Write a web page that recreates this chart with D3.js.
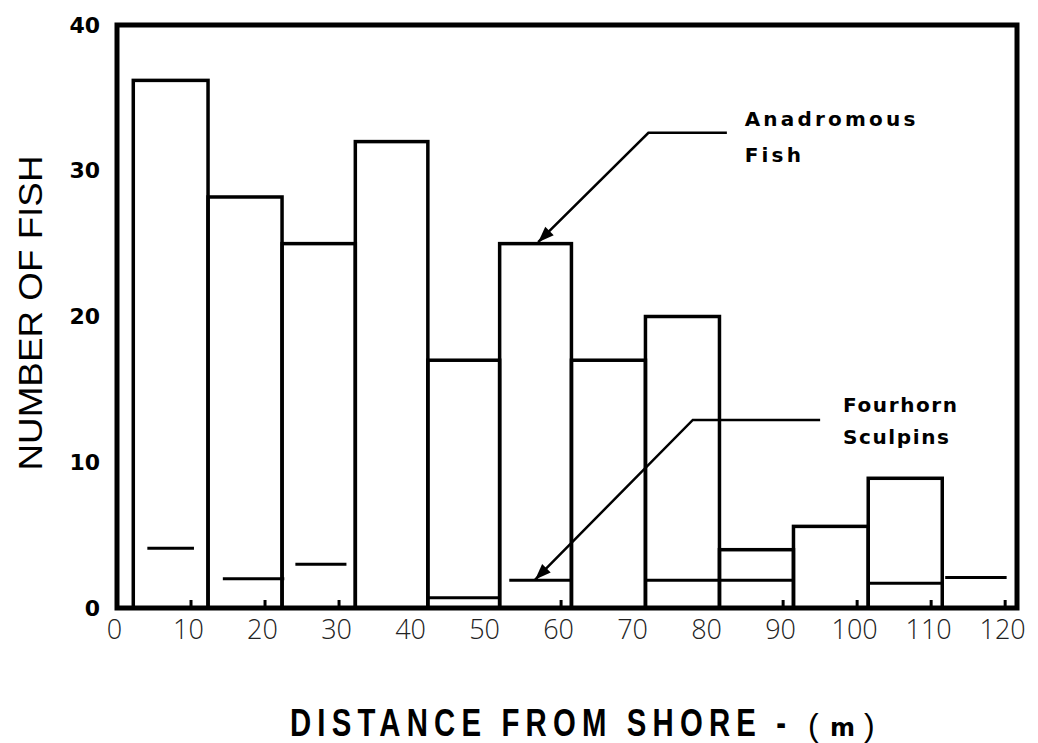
<!DOCTYPE html>
<html>
<head>
<meta charset="utf-8">
<script src="https://cdn.jsdelivr.net/npm/d3@7"></script>
<style>
  html, body { margin: 0; padding: 0; background: #fff; }
  svg { display: block; }
</style>
</head>
<body>
<svg id="chart" width="1038" height="743"></svg>
<script>
// Distance bins (m) along the transect
const binStart = [2.2, 12.3, 22.3, 32.2, 42.0, 51.7, 61.4, 71.4, 81.4, 91.4, 101.5, 111.5];
const binEnd   = [12.3, 22.3, 32.2, 42.0, 51.7, 61.4, 71.4, 81.4, 91.4, 101.5, 111.5, 120.4];

// Anadromous fish caught per bin
const anadromous = [36.2, 28.2, 25, 32, 17, 25, 17, 20, 4, 5.6, 8.9, 0];

// Fourhorn sculpins per bin, drawn as horizontal segments
const sculpins    = [4.1, 2.0, 3.0, 0, 0.7, 1.9, 0, 1.9, 1.9, 0, 1.7, 2.1];
const sculpinFrom = [4.1, 14.3, 24.1, null, 42.0, 53.0, null, 71.4, 81.4, null, 101.5, 111.9];
const sculpinTo   = [10.4, 22.6, 31.0, null, 51.7, 61.4, null, 81.4, 91.4, null, 111.5, 120.2];

const xTicks = [0, 10, 20, 30, 40, 50, 60, 70, 80, 90, 100, 110, 120];
const yTicks = [0, 10, 20, 30, 40];
const xMarks = [10, 20, 30, 60, 90, 100, 110, 120];

const svg = d3.select("#chart");
const x = d3.scaleLinear().domain([0, 121.6]).range([117, 1017]);
const y = d3.scaleLinear().domain([0, 40]).range([608, 25]);

// Anadromous histogram bars (outlined)
const bars = anadromous.map((v, i) => ({ v, s: binStart[i], e: binEnd[i] })).filter(d => d.v > 0);
svg.append("g").selectAll("rect").data(bars).join("rect")
  .attr("x", d => x(d.s)).attr("y", d => y(d.v))
  .attr("width", d => x(d.e) - x(d.s)).attr("height", d => y(0) - y(d.v))
  .attr("fill", "none").attr("stroke", "#000").attr("stroke-width", 3.5);

// Fourhorn sculpin levels
const sc = sculpins.map((v, i) => ({ v, f: sculpinFrom[i], t: sculpinTo[i] })).filter(d => d.v > 0);
svg.append("g").selectAll("line").data(sc).join("line")
  .attr("x1", d => x(d.f)).attr("x2", d => x(d.t))
  .attr("y1", d => y(d.v)).attr("y2", d => y(d.v))
  .attr("stroke", "#000").attr("stroke-width", 3);

// Small inward tick marks on the distance axis
svg.append("g").selectAll("line").data(xMarks).join("line")
  .attr("x1", d => x(d)).attr("x2", d => x(d))
  .attr("y1", y(0)).attr("y2", y(0) - 8)
  .attr("stroke", "#000").attr("stroke-width", 3);

// Plot frame
svg.append("rect")
  .attr("x", x(0)).attr("y", y(40))
  .attr("width", 900).attr("height", y(0) - y(40))
  .attr("fill", "none").attr("stroke", "#000").attr("stroke-width", 5);

// Axes (labels only; the frame carries the lines)
const xAxis = d3.axisBottom(x).tickValues(xTicks).tickSize(0).tickPadding(0).tickFormat(d3.format("d"));
const gx = svg.append("g").attr("transform", `translate(-3,${y(0) + 12})`).call(xAxis);
gx.select(".domain").remove();
gx.selectAll("text")
  .attr("dy", "0.71em")
  .attr("font-family", "'Open Sans', 'Noto Sans', sans-serif")
  .attr("font-weight", 300)
  .attr("font-size", 27).attr("fill", "#222");

const yAxis = d3.axisLeft(y).tickValues(yTicks).tickSize(0).tickPadding(0).tickFormat(d3.format("d"));
const gy = svg.append("g").attr("transform", `translate(100,0)`).call(yAxis);
gy.select(".domain").remove();
gy.selectAll("text")
  .attr("font-family", "'DejaVu Sans', sans-serif")
  .attr("font-weight", "bold")
  .attr("font-size", 22).attr("fill", "#000");

// Axis titles
svg.append("text")
  .attr("transform", `translate(42,313) rotate(-90)`)
  .attr("text-anchor", "middle")
  .attr("font-family", "'Liberation Sans', Arial, sans-serif")
  .attr("font-size", 33).attr("fill", "#000")
  .attr("textLength", 315).attr("lengthAdjust", "spacingAndGlyphs")
  .text("NUMBER OF FISH");

// Condensed, letter-spaced distance title
svg.append("text")
  .attr("transform", "translate(290,736) scale(0.772,1)")
  .attr("font-family", "'Liberation Sans', Arial, sans-serif")
  .attr("font-weight", "bold")
  .attr("font-size", 38).attr("letter-spacing", 8).attr("fill", "#000")
  .text("DISTANCE FROM SHORE -");
const unitParts = [
  { s: "(", px: 808, size: 32, weight: "normal", fam: "'Liberation Sans', Arial, sans-serif" },
  { s: "m", px: 830, size: 24, weight: "bold", fam: "'DejaVu Sans', sans-serif" },
  { s: ")", px: 864, size: 32, weight: "normal", fam: "'Liberation Sans', Arial, sans-serif" }
];
svg.append("g").selectAll("text").data(unitParts).join("text")
  .attr("x", d => d.px).attr("y", 736)
  .attr("font-family", d => d.fam).attr("font-weight", d => d.weight)
  .attr("font-size", d => d.size).attr("fill", "#000")
  .text(d => d.s);

// Annotation leaders with arrowheads
function leader(pts) {
  const p = pts.map(d => [x(d[0]), y(d[1])]);
  svg.append("path")
    .attr("d", d3.line()(p))
    .attr("fill", "none").attr("stroke", "#000").attr("stroke-width", 2.5);
  const tip = p[0], from = p[1];
  const ang = Math.atan2(from[1] - tip[1], from[0] - tip[0]);
  const L = 16, W = 6;
  const bx = tip[0] + L * Math.cos(ang), by = tip[1] + L * Math.sin(ang);
  const nx = -Math.sin(ang) * W, ny = Math.cos(ang) * W;
  svg.append("path")
    .attr("d", `M${tip[0]},${tip[1]}L${bx + nx},${by + ny}L${bx - nx},${by - ny}Z`)
    .attr("fill", "#000");
}
leader([[56.9, 25.1], [71.8, 32.6], [82.4, 32.6]]);
leader([[56.5, 1.95], [77.8, 12.9], [95.0, 12.9]]);

// Annotation labels
const annoFont = "'DejaVu Sans', 'Noto Sans', sans-serif";
function label(lines, xv, yv, step, spacing) {
  const t = svg.append("text")
    .attr("font-family", annoFont).attr("font-weight", "bold")
    .attr("font-size", 20).attr("letter-spacing", spacing).attr("fill", "#000");
  lines.forEach((s, i) => t.append("tspan").attr("x", x(xv)).attr("y", y(yv) + i * step).text(s));
}
label(["Anadromous", "Fish"], 84.8, 33.07, 36, 3.2);
label(["Fourhorn", "Sculpins"], 98.1, 13.45, 32, 1.6);
</script>
</body>
</html>
